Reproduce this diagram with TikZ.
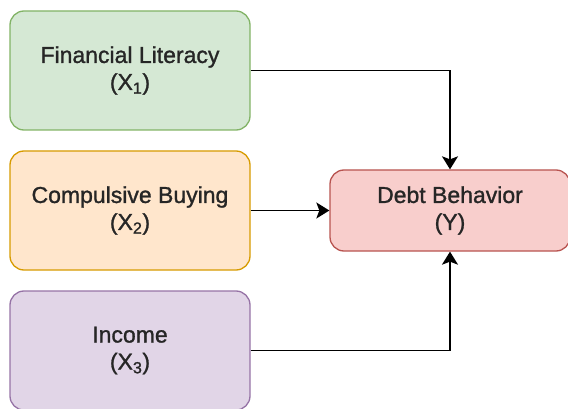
\documentclass[tikz,border=0pt]{standalone}
\usepackage{fontspec}
\setmainfont{Liberation Sans}
\newfontfamily\labelfont{Liberation Sans}[BoldFont={Liberation Sans}, BoldFeatures={FakeBold=1.2}]
\usetikzlibrary{arrows.meta}

\definecolor{greenfill}{HTML}{D5E8D4}
\definecolor{greendraw}{HTML}{82B366}
\definecolor{orangefill}{HTML}{FFE6CC}
\definecolor{orangedraw}{HTML}{D79B00}
\definecolor{purplefill}{HTML}{E1D5E7}
\definecolor{purpledraw}{HTML}{9673A6}
\definecolor{redfill}{HTML}{F8CECC}
\definecolor{reddraw}{HTML}{B85450}

\begin{document}
\begin{tikzpicture}[x=1pt, y=-1pt, >={Stealth[length=13pt,width=16pt,inset=3pt]}, node distance=140pt]
    \tikzstyle{var}=[rectangle, rounded corners=14pt, line width=1.3pt, text=black!85,
      minimum width=240pt, minimum height=119pt, align=center,
      font=\labelfont\bfseries\fontsize{23}{27}\selectfont]
    \useasboundingbox (0,0) rectangle (568,409);
    \node[var, fill=greenfill, draw=greendraw]    (fl) at (130,70.5)	{Financial Literacy\\(X\textsubscript{1})};
    \node[var, fill=orangefill, draw=orangedraw]  (cb) [below of=fl]	{Compulsive Buying\\(X\textsubscript{2})};
    \node[var, fill=purplefill, draw=purpledraw]  (inc) [below of=cb]	{Income\\(X\textsubscript{3})};
    \node[var, fill=redfill, draw=reddraw, minimum height=81pt] (db) [right of=cb, node distance=320pt] {Debt Behavior\\(Y)};
    \path[->, line width=1.9pt]
    (fl)
      edge[to path={-| (\tikztotarget)}]	(db)
    (cb)
      edge	(db)
    (inc)
      edge[to path={-| (\tikztotarget)}]	(db);
\end{tikzpicture}
\end{document}
